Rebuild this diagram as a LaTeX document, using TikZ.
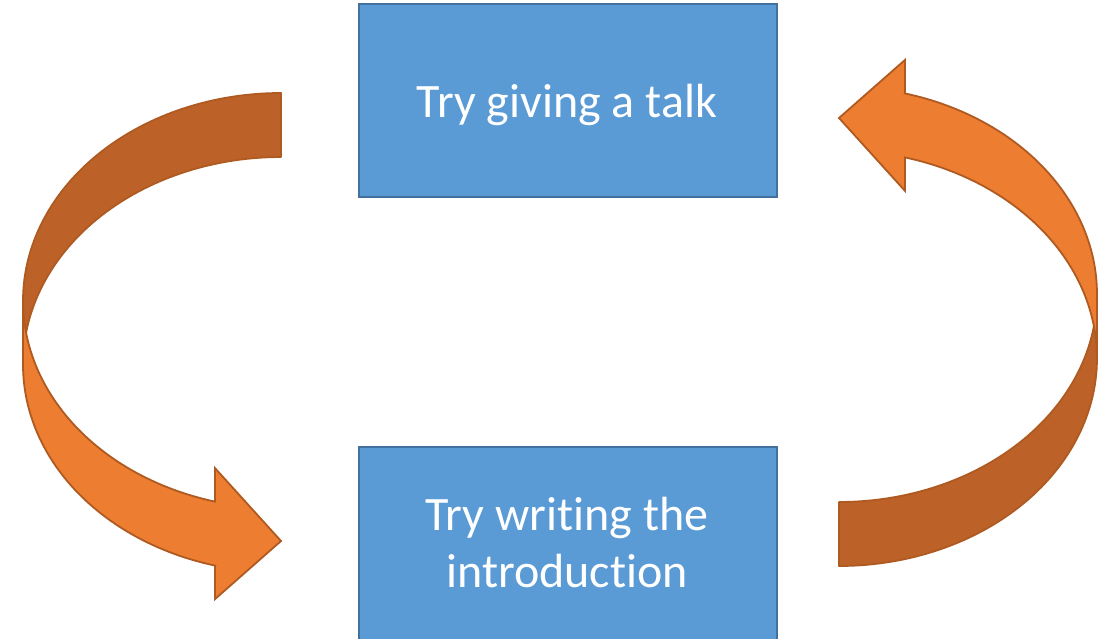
\documentclass[tikz,border=0pt]{standalone}
\usepackage{fontspec}
\setmainfont{Carlito}[Ligatures={NoCommon}]
\definecolor{orfront}{HTML}{ED7D31}
\definecolor{orback}{HTML}{BC6228}
\definecolor{orline}{HTML}{AE5A21}
\definecolor{bluefill}{HTML}{5B9BD5}
\definecolor{blueline}{HTML}{41719C}
\tikzset{
  curvearrow/.pic={
    \path[bandback] (258,0)
      -- plot[domain=270:180, samples=60, variable=\t] ({258+258*cos(\t)},{207.75+207.75*sin(\t)})
      -- (0,271.75)
      -- plot[domain=180:270, samples=60, variable=\t] ({258+258*cos(\t)},{271.75+207.75*sin(\t)})
      -- cycle;
    \path[bandfront] (0,207.75)
      -- plot[domain=180:104.82, samples=60, variable=\t] ({258+258*cos(\t)},{207.75+207.75*sin(\t)})
      -- (192,375.1) -- (258,448) -- (192,506.1) -- (192,472.6)
      -- plot[domain=104.82:180, samples=60, variable=\t] ({258+258*cos(\t)},{271.75+207.75*sin(\t)})
      -- cycle;
  }
}
\begin{document}
\begin{tikzpicture}[x=1pt,y=-1pt,
  stepbox/.style={draw=blueline, fill=bluefill, line width=1.8pt, minimum width=418pt, minimum height=193pt, inner sep=0pt},
  boxtext/.style={text=white, font=\fontsize{48}{56.7}\selectfont, align=center, inner sep=0pt},
  bandback/.style={fill=orback, draw=orline, line width=1.8pt, line join=round},
  bandfront/.style={fill=orfront, draw=orline, line width=1.8pt, line join=miter}]
\clip (0,0) rectangle (1111,638);
\fill[white] (0,0) rectangle (1111,638);
\pic (leftarrow) at (23,93) {curvearrow};
\pic[rotate=180] (rightarrow) at (1097,566) {curvearrow};
\node[stepbox] (talkbox) at (568,100.5) {};
\node[boxtext, anchor=base] (talk) at (567,117) {Try giving a talk};
\node[stepbox] (introbox) at (568,543.5) {};
\node[boxtext, anchor=base] (intro) at (567,587.3) {Try writing the\\introduction};
\end{tikzpicture}
\end{document}
